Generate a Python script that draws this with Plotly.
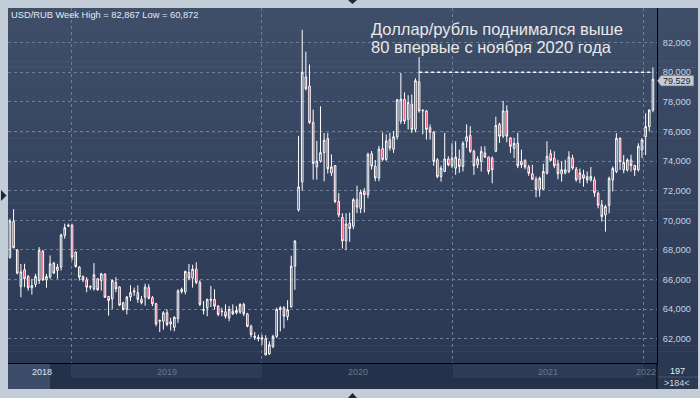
import pandas as pd
import plotly.graph_objects as go

# ---------------- data (weekly USD/RUB candles) ----------------
FIRST_WEEK = "2018-09-06"
N_WEEKS = 177

opens = [67.50, 69.93, 68.00, 65.52, 66.66, 66.20, 65.44, 65.66, 65.93, 67.92,
         65.98, 66.16, 67.11, 66.61, 66.84, 68.98, 69.60, 69.66, 67.85, 66.84,
         66.20, 65.98, 65.48, 65.37, 66.05, 65.93, 66.38, 64.85, 64.69, 65.80,
         65.50, 64.43, 63.98, 64.82, 65.15, 65.11, 64.66, 64.80, 65.45, 64.77,
         64.36, 63.18, 63.18, 63.75, 63.00, 62.77, 63.36, 65.34, 65.18, 66.48,
         66.09, 66.70, 65.80, 63.91, 64.09, 64.59, 64.66, 64.20, 63.82, 63.82,
         63.41, 63.86, 63.75, 63.80, 64.32, 63.68, 62.84, 62.09, 62.00, 61.98,
         62.00, 60.98, 61.48, 62.16, 63.98, 64.09, 63.50, 64.16, 66.90, 70.70,
         72.60, 79.68, 79.07, 76.61, 73.61, 74.00, 74.57, 75.52, 73.20, 73.70,
         71.27, 70.20, 68.61, 69.80, 69.60, 71.39, 70.80, 71.95, 71.73, 74.50,
         73.66, 72.86, 74.84, 74.11, 75.45, 74.80, 75.64, 76.70, 78.18, 76.82,
         77.84, 76.14, 79.36, 77.39, 77.39, 76.25, 75.95, 74.09, 72.95, 73.30,
         74.14, 73.68, 73.52, 74.14, 73.64, 75.34, 75.73, 74.66, 73.75, 73.98,
         74.55, 74.27, 74.20, 74.66, 76.48, 75.68, 77.39, 75.57, 74.86, 75.20,
         73.98, 74.05, 73.60, 73.14, 72.77, 72.09, 72.10, 73.18, 74.50, 74.20,
         73.82, 73.14, 73.20, 73.30, 74.20, 73.45, 72.77, 73.07, 72.95, 72.73,
         72.73, 71.82, 71.04, 70.36, 71.00, 72.73, 73.29, 75.54, 73.40, 73.40,
         74.08, 73.70, 73.40, 74.75, 75.65, 76.33, 77.45]

highs = [70.10, 70.75, 68.05, 67.05, 67.06, 66.30, 66.05, 66.38, 68.19, 68.00,
         66.38, 67.63, 67.20, 67.06, 69.10, 69.77, 69.77, 69.77, 67.90, 66.90,
         66.27, 66.16, 65.60, 67.11, 66.10, 66.45, 66.40, 64.90, 66.00, 66.16,
         65.55, 64.50, 64.89, 65.61, 65.45, 65.61, 64.89, 65.72, 65.68, 64.89,
         64.43, 63.30, 63.86, 63.98, 63.41, 63.52, 65.34, 65.45, 66.59, 67.05,
         67.00, 67.16, 65.95, 64.55, 64.70, 65.57, 65.34, 64.27, 64.09, 64.32,
         64.20, 64.32, 64.20, 64.39, 64.43, 63.75, 62.95, 62.45, 62.27, 62.27,
         62.23, 61.82, 62.27, 64.09, 64.20, 64.20, 64.60, 67.60, 68.65, 75.70,
         82.867, 81.39, 80.52, 77.48, 75.36, 77.70, 75.89, 75.89, 74.45, 73.73,
         71.84, 70.48, 70.48, 70.52, 71.50, 72.34, 72.07, 72.18, 74.57, 74.68,
         74.07, 75.02, 75.93, 75.80, 75.91, 76.02, 78.20, 79.95, 78.64, 78.45,
         78.50, 79.59, 81.02, 77.50, 77.45, 76.48, 76.02, 74.20, 73.70, 75.91,
         74.32, 75.20, 75.34, 74.77, 75.34, 76.48, 76.36, 74.77, 74.32, 75.00,
         75.00, 74.30, 74.32, 77.00, 76.59, 78.07, 77.77, 75.60, 75.57, 75.91,
         74.77, 74.12, 73.75, 73.75, 72.95, 72.95, 73.82, 75.34, 74.77, 74.66,
         74.09, 73.98, 74.09, 74.66, 74.43, 73.60, 73.50, 73.41, 73.30, 73.60,
         72.95, 71.94, 71.37, 71.04, 72.95, 73.63, 75.88, 75.60, 74.41, 74.19,
         74.43, 73.75, 75.20, 75.54, 77.23, 77.50, 80.32]

lows = [67.40, 68.10, 66.35, 64.80, 65.48, 65.25, 64.98, 65.48, 65.70, 65.90,
        65.44, 66.05, 66.40, 66.05, 66.61, 68.76, 69.55, 67.30, 66.80, 65.93,
        65.82, 65.14, 65.30, 65.25, 65.25, 65.25, 64.76, 63.56, 64.01, 65.14,
        64.20, 63.90, 63.64, 64.55, 64.89, 64.43, 64.32, 64.23, 64.66, 64.20,
        62.84, 62.45, 62.61, 62.84, 62.55, 62.50, 63.07, 65.05, 65.00, 65.95,
        65.45, 65.68, 64.20, 63.64, 63.52, 64.14, 63.98, 63.52, 63.52, 63.36,
        63.18, 63.60, 63.64, 63.68, 63.52, 62.77, 62.09, 61.93, 61.82, 61.59,
        60.872, 60.90, 61.36, 62.05, 62.50, 62.70, 63.25, 64.10, 65.30, 70.59,
        72.00, 78.77, 76.50, 72.75, 72.75, 73.90, 72.64, 73.16, 72.98, 71.16,
        70.20, 68.09, 67.98, 68.55, 69.40, 70.48, 70.48, 70.52, 71.50, 73.43,
        72.64, 72.64, 74.00, 74.02, 74.70, 74.55, 75.45, 76.50, 76.50, 76.14,
        75.91, 75.95, 77.27, 75.80, 75.45, 75.45, 73.68, 72.84, 72.61, 73.25,
        73.64, 73.52, 73.07, 73.20, 73.30, 74.89, 74.55, 73.07, 73.52, 73.30,
        74.20, 73.10, 72.50, 74.60, 75.23, 75.57, 75.27, 74.55, 74.20, 73.52,
        73.52, 73.45, 73.00, 72.73, 71.55, 71.59, 72.05, 73.10, 73.98, 73.52,
        72.77, 72.61, 73.10, 73.18, 73.41, 72.61, 72.50, 72.27, 72.50, 72.61,
        71.59, 70.81, 69.91, 69.23, 70.47, 71.94, 73.18, 73.40, 73.18, 73.29,
        73.29, 73.00, 73.29, 74.19, 74.41, 76.00, 77.30]

closes = [69.95, 68.15, 66.43, 66.52, 66.05, 65.44, 65.59, 66.20, 67.97, 65.98,
          66.20, 67.06, 66.43, 66.84, 69.00, 69.50, 69.66, 67.51, 66.88, 66.16,
          65.98, 65.48, 65.53, 66.32, 65.30, 66.38, 64.80, 64.58, 65.93, 65.37,
          64.27, 63.98, 64.82, 65.11, 65.23, 64.66, 64.43, 65.49, 64.73, 64.36,
          63.00, 63.23, 63.75, 62.95, 63.14, 63.45, 65.23, 65.18, 66.55, 66.09,
          66.70, 65.80, 64.32, 63.98, 64.66, 64.66, 64.20, 63.64, 63.86, 63.52,
          63.98, 63.68, 63.91, 64.32, 63.68, 62.84, 62.27, 62.16, 62.09, 62.05,
          60.91, 61.59, 62.16, 63.98, 64.09, 63.52, 63.95, 66.90, 68.60, 72.25,
          80.00, 78.89, 76.61, 73.84, 74.00, 74.57, 75.41, 73.48, 73.61, 71.27,
          70.36, 68.61, 69.75, 69.45, 71.39, 70.89, 71.89, 71.73, 74.45, 73.66,
          72.86, 74.80, 74.11, 75.36, 74.89, 75.64, 78.14, 78.18, 76.70, 77.95,
          76.14, 79.43, 77.39, 77.43, 76.14, 75.95, 73.98, 72.95, 73.52, 74.14,
          73.75, 74.20, 74.27, 73.64, 75.20, 75.64, 74.66, 73.68, 74.14, 74.66,
          74.27, 73.30, 73.41, 76.40, 75.68, 77.39, 75.68, 75.00, 75.20, 73.68,
          73.75, 73.60, 73.18, 72.77, 72.09, 72.84, 73.30, 74.32, 74.05, 73.68,
          73.14, 73.41, 73.41, 74.27, 73.52, 72.73, 73.20, 72.84, 72.73, 72.95,
          71.86, 71.02, 70.25, 70.92, 72.84, 73.51, 75.54, 73.96, 73.90, 74.08,
          73.70, 73.40, 75.00, 75.43, 76.33, 77.45, 79.529]

header_text = "USD/RUB Week High = 82,867 Low = 60,872"
title_lines = ["Доллар/рубль поднимался выше", "80 впервые с ноября 2020 года"]
year_labels = ["2018", "2019", "2020", "2021", "2022"]
y_ticks = list(range(62, 84, 2))
LEVEL = 80.0          # dotted level line
LEVEL_FROM = 112      # candle index where the level line starts
bars_total = "197"
bars_visible = ">184<"

dates = pd.date_range(FIRST_WEEK, periods=N_WEEKS, freq="7D")

# ---------------- layout geometry ----------------
W, H = 700, 398
PL, PR, PT, PB = 8, 657, 8, 363     # plot area in pixels
X_RANGE = ["2018-09-02 07:00", "2022-01-27 19:00"]
Y_RANGE = [60.36, 84.34]
FONT = "Liberation Sans, Arial, sans-serif"


def fx(px):
    return (px - PL) / (PR - PL)


def fy(py):
    return (PB - py) / (PB - PT)


shapes = []

# gradient background (plot + right label column)
top_rgb = (63, 79, 105)
bot_rgb = (43, 56, 84)
NB = 60
for k in range(NB):
    t = (k + 0.5) / NB
    c = tuple(round(top_rgb[j] + (bot_rgb[j] - top_rgb[j]) * t) for j in range(3))
    y0 = PT + (PB - PT) * k / NB
    y1 = PT + (PB - PT) * (k + 1) / NB + 0.6
    shapes.append(dict(type="rect", xref="paper", yref="paper", layer="below",
                       x0=fx(PL), x1=fx(698), y0=fy(y1), y1=fy(y0),
                       line=dict(width=0), fillcolor="rgb(%d,%d,%d)" % c))

# bottom navigator strip
shapes.append(dict(type="rect", xref="paper", yref="paper", layer="below",
                   x0=fx(PL), x1=fx(PR), y0=fy(389), y1=fy(363),
                   line=dict(width=0), fillcolor="#25314a"))
shapes.append(dict(type="rect", xref="paper", yref="paper", layer="below",
                   x0=fx(PL), x1=fx(50), y0=fy(389), y1=fy(364),
                   line=dict(width=0), fillcolor="#3d4c69"))
for a, b in [(71, 262), (453, 643)]:
    shapes.append(dict(type="rect", xref="paper", yref="paper", layer="below",
                       x0=fx(a), x1=fx(b), y0=fy(378), y1=fy(364),
                       line=dict(width=0), fillcolor="#2e3b56"))
shapes.append(dict(type="rect", xref="paper", yref="paper", layer="below",
                   x0=fx(PR), x1=fx(698), y0=fy(389), y1=fy(363),
                   line=dict(width=0), fillcolor="#2b3852"))
shapes.append(dict(type="line", xref="paper", yref="paper", layer="above",
                   x0=fx(PR), x1=fx(698), y0=fy(377), y1=fy(377),
                   line=dict(color="#44526b", width=1)))
shapes.append(dict(type="line", xref="paper", yref="paper", layer="above",
                   x0=fx(PR), x1=fx(PR), y0=fy(389), y1=fy(363),
                   line=dict(color="#000000", width=1)))

# small frame markers
shapes.append(dict(type="path", xref="paper", yref="paper", layer="above",
                   path="M %f %f L %f %f L %f %f Z" % (fx(1), fy(190), fx(1), fy(201), fx(6.5), fy(195.5)),
                   fillcolor="#1c2739", line=dict(width=0)))
shapes.append(dict(type="path", xref="paper", yref="paper", layer="above",
                   path="M %f %f L %f %f L %f %f Z" % (fx(348), fy(0), fx(357), fy(0), fx(352.5), fy(4)),
                   fillcolor="#1c2739", line=dict(width=0)))
shapes.append(dict(type="path", xref="paper", yref="paper", layer="above",
                   path="M %f %f L %f %f L %f %f Z" % (fx(348), fy(398), fx(357), fy(398), fx(352.5), fy(393)),
                   fillcolor="#1c2739", line=dict(width=0)))

# dotted level line
shapes.append(dict(type="line", xref="x", yref="y", layer="above",
                   x0=dates[LEVEL_FROM], x1=dates[-1], y0=LEVEL, y1=LEVEL,
                   line=dict(color="#ffffff", width=1.3, dash="dot")))

# last price box
last = closes[-1]
box_c = last - 0.1
half = 5.0 / 14.8
shapes.append(dict(type="path", xref="paper", yref="y", layer="above",
                   path="M %f %f L %f %f L %f %f L %f %f L %f %f Z" % (
                       fx(657.5), box_c, fx(661), box_c + half, fx(693.5), box_c + half,
                       fx(693.5), box_c - half, fx(661), box_c - half),
                   fillcolor="#c8ccd3", line=dict(color="#9aa3b0", width=0.6)))

fig = go.Figure()
fig.add_trace(go.Candlestick(
    x=dates, open=opens, high=highs, low=lows, close=closes,
    increasing=dict(line=dict(color="#ffffff", width=1), fillcolor="rgba(0,0,0,0)"),
    decreasing=dict(line=dict(color="#ffffff", width=1), fillcolor="#e0103a"),
    whiskerwidth=0, hoverinfo="skip", showlegend=False,
))

annotations = [
    dict(xref="paper", yref="paper", x=fx(9), y=fy(15), xanchor="left", yanchor="middle",
         text=header_text, showarrow=False, font=dict(family=FONT, size=9.3, color="#e4e9f0")),
    dict(xref="paper", yref="paper", x=fx(369), y=fy(28.5), xanchor="left", yanchor="middle",
         text=title_lines[0], showarrow=False, font=dict(family=FONT, size=16.5, color="#e8e8e8")),
    dict(xref="paper", yref="paper", x=fx(369), y=fy(47), xanchor="left", yanchor="middle",
         text=title_lines[1], showarrow=False, font=dict(family=FONT, size=16.5, color="#e8e8e8")),
    dict(xref="paper", yref="y", x=fx(677), y=box_c, xanchor="center", yanchor="middle",
         text="%.3f" % last, showarrow=False, font=dict(family=FONT, size=9, color="#18202c")),
    dict(xref="paper", yref="paper", x=fx(677), y=fy(370.5), xanchor="center", yanchor="middle",
         text=bars_total, showarrow=False, font=dict(family=FONT, size=9, color="#e6eaf0")),
    dict(xref="paper", yref="paper", x=fx(677), y=fy(383), xanchor="center", yanchor="middle",
         text=bars_visible, showarrow=False, font=dict(family=FONT, size=9, color="#d0d6de")),
]
year_pos = [(41.5, "#e2e6ec"), (166.5, "#66768e"), (357.5, "#66768e"), (548, "#66768e"), (646, "#66768e")]
for lab, (px, col) in zip(year_labels, year_pos):
    annotations.append(dict(xref="paper", yref="paper", x=fx(px), y=fy(372), xanchor="center",
                            yanchor="middle", text=lab, showarrow=False,
                            font=dict(family=FONT, size=9, color=col)))

fig.update_layout(
    width=W, height=H,
    margin=dict(l=PL, r=W - PR, t=PT, b=H - PB, pad=0),
    paper_bgcolor="#c3cdd8",
    plot_bgcolor="rgba(0,0,0,0)",
    separators=",.",
    boxgap=0.38,
    shapes=shapes,
    annotations=annotations,
    showlegend=False,
    font=dict(family=FONT),
    xaxis=dict(type="date", range=X_RANGE, rangeslider=dict(visible=False),
               showgrid=True, gridcolor="#6c7e9b", griddash="dot", gridwidth=1,
               dtick="M12", tick0="2019-01-01", showticklabels=False, ticks="",
               showline=True, linecolor="#000000", linewidth=1, zeroline=False, fixedrange=True),
    yaxis=dict(side="right", range=Y_RANGE, tickvals=y_ticks, tickformat=".3f",
               showgrid=True, gridcolor="#6c7e9b", griddash="dot", gridwidth=1,
               ticks="", ticklabelstandoff=3,
               tickfont=dict(family=FONT, size=9.2, color="#c6d4e6"),
               showline=True, linecolor="#000000", linewidth=1, zeroline=False, fixedrange=True),
)

fig.write_html("out.html")
